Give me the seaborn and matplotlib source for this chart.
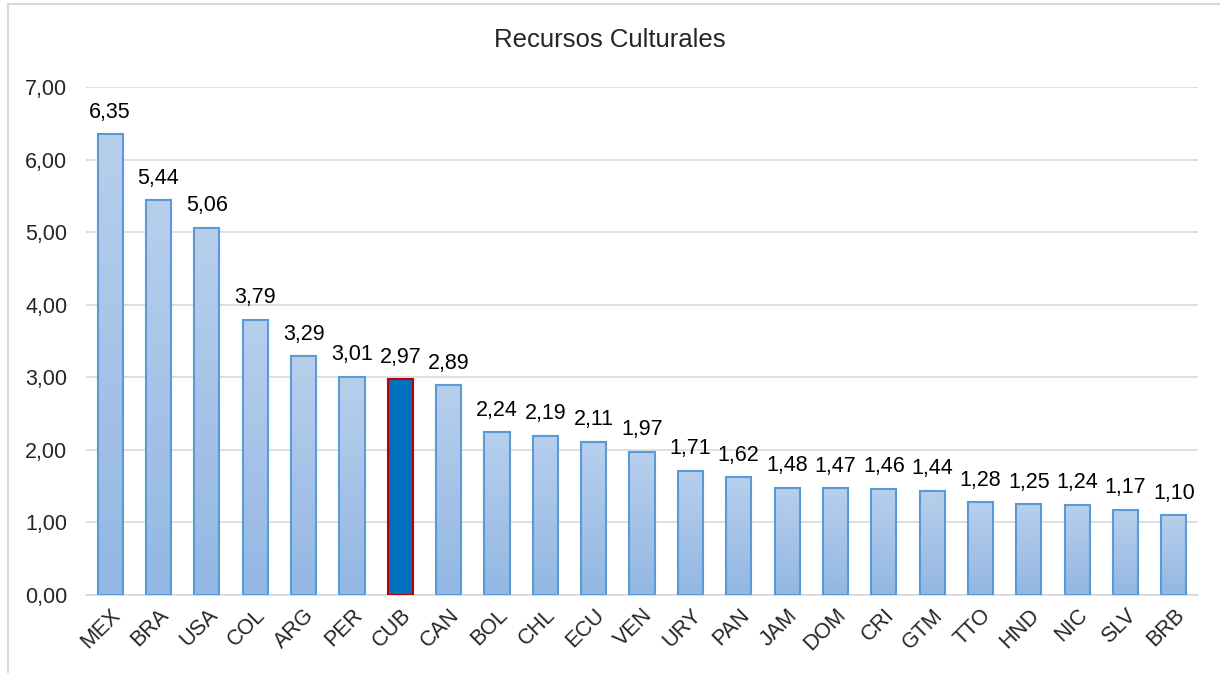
import numpy as np
import pandas as pd
import matplotlib
matplotlib.use("Agg")
import matplotlib.pyplot as plt
import seaborn as sns
from matplotlib.colors import LinearSegmentedColormap
from matplotlib.lines import Line2D

# data
countries = ["MEX", "BRA", "USA", "COL", "ARG", "PER", "CUB", "CAN", "BOL", "CHL",
             "ECU", "VEN", "URY", "PAN", "JAM", "DOM", "CRI", "GTM", "TTO", "HND",
             "NIC", "SLV", "BRB"]
values = [6.35, 5.44, 5.06, 3.79, 3.29, 3.01, 2.97, 2.89, 2.24, 2.19,
          2.11, 1.97, 1.71, 1.62, 1.48, 1.47, 1.46, 1.44, 1.28, 1.25,
          1.24, 1.17, 1.10]
highlight = "CUB"
y_ticks = [0, 1, 2, 3, 4, 5, 6, 7]

df = pd.DataFrame({"pais": countries, "valor": values})

sns.set_style("white")
plt.rcParams["font.family"] = ["Liberation Sans", "DejaVu Sans"]

fig = plt.figure(figsize=(12.2, 6.73), dpi=100)
ax = fig.add_axes([0.0705, 0.1159, 0.9115, 0.7548])

sns.barplot(data=df, x="pais", y="valor", color="#a9c6ea", width=0.52,
            saturation=1, ax=ax, zorder=3)

# gradient fill + edges
grad = LinearSegmentedColormap.from_list("g", ["#93b7e3", "#b7cfec"])
for p, name in zip(ax.patches, countries):
    x0, w, h = p.get_x(), p.get_width(), p.get_height()
    if name == highlight:
        p.set_facecolor("#0070c0")
        p.set_edgecolor("#c00000")
        p.set_linewidth(1.5)
    else:
        p.set_facecolor("none")
        p.set_edgecolor("#5b9bd5")
        p.set_linewidth(1.5)
        im = ax.imshow(np.linspace(0, 1, 100).reshape(-1, 1), cmap=grad,
                       extent=[x0, x0 + w, 0, h], origin="lower",
                       aspect="auto", zorder=2.5)
        im.set_clip_path(p)

# value labels
for i, v in enumerate(values):
    ax.text(i, v + 0.16, f"{v:.2f}".replace(".", ","), ha="center", va="bottom",
            fontsize=15.5, color="#000000")

ax.set_xlim(-0.5, len(countries) - 0.5)
ax.set_ylim(0, 7)
ax.set_yticks(y_ticks)
ax.set_yticklabels([f"{t:.2f}".replace(".", ",") for t in y_ticks], fontsize=15.5)
ax.set_xticks(range(len(countries)))
ax.set_xticklabels(countries, rotation=45, ha="right", rotation_mode="anchor",
                   fontsize=15.5)
ax.tick_params(axis="x", length=0, pad=7)
ax.tick_params(axis="y", length=0, pad=13.5)
ax.set_xlabel("")
ax.set_ylabel("")
ax.grid(axis="y", color="#d9d9d9", linewidth=1.2, zorder=0)
ax.set_axisbelow(True)
for s in ["top", "right", "left"]:
    ax.spines[s].set_visible(False)
ax.spines["bottom"].set_color("#d9d9d9")
ax.spines["bottom"].set_linewidth(1.2)

fig.text(0.5, 0.94, "Recursos Culturales", ha="center", va="center", fontsize=18.5)

# outer frame (left and top edges only visible)
fx = 8 / 1220
fy = 1 - 4 / 673
fig.add_artist(Line2D([fx, fx], [0, fy], transform=fig.transFigure,
                      color="#d9d9d9", linewidth=1.5))
fig.add_artist(Line2D([fx, 1], [fy, fy], transform=fig.transFigure,
                      color="#d9d9d9", linewidth=1.5))

fig.savefig("out.png", dpi=100)
